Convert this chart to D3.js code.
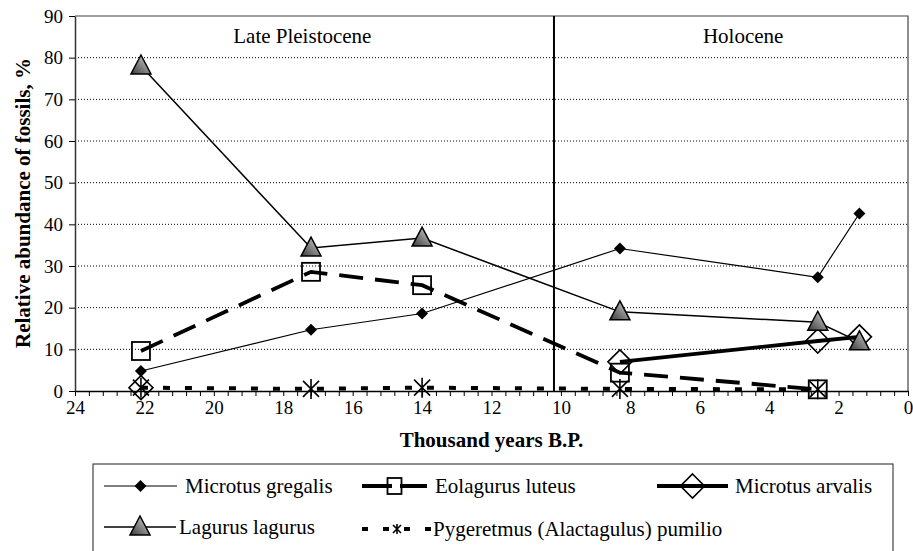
<!DOCTYPE html>
<html lang="en">
<head>
<meta charset="utf-8">
<title></title>
<style>
  body { margin: 0; background: #fff; }
</style>
</head>
<body>
<div id="chart"></div>
<script src="https://d3js.org/d3.v7.min.js"></script>
<script>
(function(d3) {
  'use strict';

  // ages in thousand years B.P.
  var ages = [22.1, 17.2, 14.0, 8.3, 2.6, 1.4];
  var gregalis = [4.8, 14.7, 18.6, 34.2, 27.3, 42.6];
  var eolagurus = [9.6, 28.6, 25.4, 4.4, 0.4, null];
  var arvalis = [0.8, null, null, 7.0, 12.0, 13.0];
  var lagurus = [78.0, 34.3, 36.7, 19.0, 16.5, 11.8];
  var pygeretmus = [0.8, 0.5, 0.8, 0.5, 0.4, null];

  var yTicks = [0, 10, 20, 30, 40, 50, 60, 70, 80, 90];
  var boundary = 10.2;
  var periods = [
    {name: 'Late Pleistocene', x: 17.45},
    {name: 'Holocene', x: 4.75}
  ];

  var FONT = '"Liberation Serif", "DejaVu Serif", serif';
  var width = 913, height = 551;
  var margin = {left: 75, top: 16};
  var plotW = 908 - margin.left;
  var plotH = 391 - margin.top;

  var svg = d3.select('#chart').append('svg')
    .attr('width', width).attr('height', height)
    .attr('font-family', FONT)
    .style('display', 'block');

  var defs = svg.append('defs');
  var grad = defs.append('linearGradient').attr('id', 'triGrad')
    .attr('x1', 0).attr('y1', 1).attr('x2', 1).attr('y2', 0);
  grad.append('stop').attr('offset', '0%').attr('stop-color', '#3a3a3a');
  grad.append('stop').attr('offset', '100%').attr('stop-color', '#d8d8d8');

  var x = d3.scaleLinear().domain([24, 0]).range([0, plotW]);
  var y = d3.scaleLinear().domain([0, 90]).range([plotH, 0]);

  var g = svg.append('g')
    .attr('transform', 'translate(' + margin.left + ',' + margin.top + ')');

  // dotted gridlines
  g.selectAll('.grid').data(yTicks.filter(function(d) { return d > 0 && d < 90; }))
    .enter().append('line')
    .attr('x1', 0).attr('x2', plotW)
    .attr('y1', function(d) { return y(d); }).attr('y2', function(d) { return y(d); })
    .attr('stroke', '#000').attr('stroke-width', 1).attr('stroke-dasharray', '1,2');

  // frame top and right
  g.append('path')
    .attr('d', 'M0,' + y(90) + 'H' + x(0) + 'V' + y(0))
    .attr('fill', 'none').attr('stroke', '#444').attr('stroke-width', 1.2);

  // x axis, minor ticks every 0.4
  var minor = d3.range(0, 61).map(function(i) { return 24 - i * 0.4; });
  var xAxis = g.append('g').attr('transform', 'translate(0,' + plotH + ')')
    .call(d3.axisBottom(x).tickValues(minor).tickSize(5).tickSizeOuter(0)
      .tickFormat(function(d) {
        var r = Math.round(d);
        return (Math.abs(d - r) < 0.01 && r % 2 === 0) ? r : '';
      }).tickPadding(5));
  xAxis.attr('font-family', FONT).attr('font-size', 19);
  xAxis.select('.domain').attr('stroke', '#000').attr('stroke-width', 1.5);
  xAxis.selectAll('.tick line').attr('stroke', '#000');

  // y axis
  var yAxis = g.append('g')
    .call(d3.axisLeft(y).tickValues(yTicks).tickSize(6).tickSizeOuter(0).tickPadding(6));
  yAxis.attr('font-family', FONT).attr('font-size', 19);
  yAxis.select('.domain').attr('stroke', '#333').attr('stroke-width', 1.5);
  yAxis.selectAll('.tick line').attr('stroke', '#000');

  // boundary between periods
  g.append('line')
    .attr('x1', x(boundary)).attr('x2', x(boundary))
    .attr('y1', y(90)).attr('y2', y(0))
    .attr('stroke', '#000').attr('stroke-width', 2);

  g.selectAll('.period').data(periods).enter().append('text')
    .attr('x', function(d) { return x(d.x); })
    .attr('y', 27)
    .attr('font-size', 21)
    .attr('text-anchor', 'middle')
    .text(function(d) { return d.name; });

  // axis titles
  svg.append('text')
    .attr('x', margin.left + plotW / 2).attr('y', 447)
    .attr('text-anchor', 'middle')
    .attr('font-size', 21).attr('font-weight', 'bold')
    .text('Thousand years B.P.');
  svg.append('text')
    .attr('transform', 'translate(30,203) rotate(-90)')
    .attr('text-anchor', 'middle')
    .attr('font-size', 21).attr('font-weight', 'bold')
    .text('Relative abundance of fossils, %');

  // markers
  function drawMarker(sel, type) {
    if (type === 'diamondFilled') {
      sel.append('path').attr('d', 'M0,-6L6,0L0,6L-6,0Z').attr('fill', '#000');
    } else if (type === 'square') {
      sel.append('rect').attr('x', -9).attr('y', -9).attr('width', 18).attr('height', 18)
        .attr('fill', 'none').attr('stroke', '#000').attr('stroke-width', 1.8);
    } else if (type === 'squareSmall') {
      sel.append('rect').attr('x', -7).attr('y', -8).attr('width', 14).attr('height', 16)
        .attr('fill', 'none').attr('stroke', '#000').attr('stroke-width', 1.8);
    } else if (type === 'diamond') {
      sel.append('path').attr('d', 'M0,-12L12,0L0,12L-12,0Z')
        .attr('fill', 'none').attr('stroke', '#000').attr('stroke-width', 1.6);
    } else if (type === 'triangle') {
      sel.append('path').attr('d', 'M0,-11L10,8L-10,8Z')
        .attr('fill', 'url(#triGrad)').attr('stroke', '#000').attr('stroke-width', 1.5);
    } else if (type === 'star') {
      sel.append('path').attr('d', 'M-8,-8L8,8M8,-8L-8,8M0,-10V10')
        .attr('fill', 'none').attr('stroke', '#000').attr('stroke-width', 1.6);
    } else if (type === 'starSmall') {
      sel.append('path').attr('d', 'M-4,-4L4,4M4,-4L-4,4M0,-5V5')
        .attr('fill', 'none').attr('stroke', '#000').attr('stroke-width', 1.6);
    }
  }

  var series = [
    {name: 'Microtus gregalis', values: gregalis, width: 1.2, dash: null, legendDash: null, marker: 'diamondFilled', legendMarker: 'diamondFilled'},
    {name: 'Eolagurus luteus', values: eolagurus, width: 3.8, dash: '24,12', legendDash: '30,8', marker: 'square', legendMarker: 'squareSmall'},
    {name: 'Microtus arvalis', values: arvalis, width: 3.8, dash: null, legendDash: null, marker: 'diamond', legendMarker: 'diamond'},
    {name: 'Lagurus lagurus', values: lagurus, width: 1.5, dash: null, legendDash: null, marker: 'triangle', legendMarker: 'triangle'},
    {name: 'Pygeretmus (Alactagulus) pumilio', values: pygeretmus, width: 4, dash: '7,15', legendDash: '6,15', marker: 'star', legendMarker: 'starSmall'}
  ];

  var line = d3.line()
    .defined(function(d) { return d.v !== null; })
    .x(function(d) { return x(d.a); })
    .y(function(d) { return y(d.v); });

  series.forEach(function(s) {
    var pts = ages.map(function(a, i) { return {a: a, v: s.values[i]}; });
    g.append('path').datum(pts)
      .attr('d', line)
      .attr('fill', 'none').attr('stroke', '#000')
      .attr('stroke-width', s.width)
      .attr('stroke-dasharray', s.dash);
    g.selectAll(null).data(pts.filter(function(d) { return d.v !== null; }))
      .enter().append('g')
      .attr('transform', function(d) { return 'translate(' + x(d.a) + ',' + y(d.v) + ')'; })
      .each(function() { drawMarker(d3.select(this), s.marker); });
  });

  // legend
  var legendPos = [
    {x: 104, y: 486, x2: 177, tx: 185},
    {x: 362, y: 486, x2: 427, tx: 435},
    {x: 657, y: 486, x2: 728, tx: 735},
    {x: 104, y: 527, x2: 176, tx: 179},
    {x: 362, y: 529, x2: 432, tx: 433}
  ];

  var legend = svg.append('g').attr('font-size', 21);
  legend.append('rect')
    .attr('x', 93).attr('y', 464).attr('width', 800).attr('height', 120)
    .attr('fill', 'none').attr('stroke', '#444').attr('stroke-width', 1.2);

  series.forEach(function(s, i) {
    var p = legendPos[i];
    var item = legend.append('g');
    item.append('line')
      .attr('x1', p.x).attr('x2', p.x2).attr('y1', p.y).attr('y2', p.y)
      .attr('stroke', '#000').attr('stroke-width', s.width)
      .attr('stroke-dasharray', s.legendDash);
    item.append('g')
      .attr('transform', 'translate(' + ((p.x + p.x2) / 2) + ',' + p.y + ')')
      .each(function() { drawMarker(d3.select(this), s.legendMarker); });
    item.append('text')
      .attr('x', p.tx).attr('y', p.y).attr('dy', '0.35em')
      .text(s.name);
  });

})(window.d3);
</script>
</body>
</html>
